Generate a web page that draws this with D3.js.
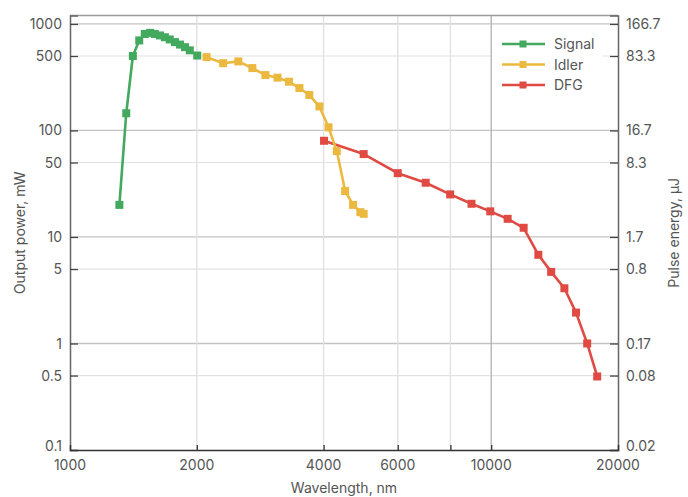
<!DOCTYPE html>
<html>
<head>
<meta charset="utf-8">
<script src="https://cdn.jsdelivr.net/npm/d3@7"></script>
<style>
  html, body { margin: 0; padding: 0; background: #fff; }
  svg text { font-family: Inter, "Liberation Sans", Arial, sans-serif; fill: #555; }
</style>
</head>
<body>
<svg id="chart" width="688" height="497"></svg>
<script>
// ---- data ----
const signalWavelength = [1310, 1360, 1410, 1460, 1505, 1550, 1590, 1635, 1680, 1725, 1775, 1825, 1875, 1925, 2005];
const signalPower      = [20, 145, 500, 700, 805, 825, 805, 780, 750, 715, 675, 640, 605, 565, 505];

const idlerWavelength = [2110, 2310, 2510, 2710, 2910, 3110, 3310, 3505, 3700, 3910, 4110, 4300, 4500, 4700, 4890, 4980];
const idlerPower      = [488, 428, 445, 385, 331, 313, 287, 250, 215, 168, 107, 64, 27, 20, 17.1, 16.5];

const dfgWavelength = [4010, 4980, 6000, 6990, 7990, 8980, 9950, 10940, 11940, 12940, 13880, 14920, 15900, 16900, 17850];
const dfgPower      = [80, 60, 39.7, 32.3, 25.1, 20.5, 17.4, 14.8, 12.2, 6.8, 4.7, 3.3, 1.95, 1.0, 0.49];

const seriesNames  = ["Signal", "Idler", "DFG"];
const seriesColors = ["#43a95e", "#ecb940", "#df4a42"];

const yTickValues = [1000, 500, 100, 50, 10, 5, 1, 0.5, 0.1];
const yRightLabels = ["166.7", "83.3", "16.7", "8.3", "1.7", "0.8", "0.17", "0.08", "0.02"];
const xTickValues = [2000, 4000, 6000, 8000, 10000];
const xLabelValues = [1000, 2000, 4000, 6000, 10000, 20000];

// ---- layout ----
const svg = d3.select("#chart");
const L = 70, R = 618, T = 15.5, B = 450;

const x = d3.scaleLog().domain([1000, 20000]).range([L, R]);
const y = d3.scaleLog().domain([0.1, 1200]).range([B, T]);

const isMajor = v => Math.abs(Math.log10(v) - Math.round(Math.log10(v))) < 1e-9;
const labelY = d => y(d) - (d === 0.1 ? 4 : 0);

// gridlines
svg.append("g").selectAll("line")
  .data(yTickValues.filter(v => v !== 0.1))
  .join("line")
  .attr("x1", L).attr("x2", R)
  .attr("y1", d => y(d)).attr("y2", d => y(d))
  .attr("stroke", d => isMajor(d) ? "#c4c4c4" : "#e2e2e2")
  .attr("stroke-width", d => isMajor(d) ? 1.3 : 1.2);

svg.append("g").selectAll("line")
  .data(xTickValues)
  .join("line")
  .attr("x1", d => x(d)).attr("x2", d => x(d))
  .attr("y1", T).attr("y2", B)
  .attr("stroke", d => d === 10000 ? "#b0b0b0" : "#e0e0e0")
  .attr("stroke-width", 1.3);

// frame
svg.append("line").attr("x1", L).attr("x2", R).attr("y1", T).attr("y2", T)
  .attr("stroke", "#999").attr("stroke-width", 1.3);

// left axis
const yAxisLeft = d3.axisRight(y).tickValues(yTickValues).tickSize(8).tickFormat("");
const gL = svg.append("g").attr("transform", `translate(${L},0)`).call(yAxisLeft);
gL.select(".domain").attr("stroke", "#666").attr("stroke-width", 1.5);
gL.selectAll(".tick line").attr("stroke", "#444").attr("stroke-width", 1.3);
svg.append("g").selectAll("text")
  .data(yTickValues).join("text")
  .attr("x", L - 8).attr("y", d => labelY(d)).attr("dy", "0.36em")
  .attr("text-anchor", "end").attr("font-size", 14)
  .text(d => d3.format("~g")(d));

// right axis
const yAxisRight = d3.axisLeft(y).tickValues(yTickValues).tickSize(8).tickFormat("");
const gR = svg.append("g").attr("transform", `translate(${R},0)`).call(yAxisRight);
gR.select(".domain").attr("stroke", "#666").attr("stroke-width", 1.5);
gR.selectAll(".tick line").attr("stroke", "#444").attr("stroke-width", 1.3);
svg.append("g").selectAll("text")
  .data(yTickValues).join("text")
  .attr("x", R + 8).attr("y", d => labelY(d)).attr("dy", "0.36em")
  .attr("text-anchor", "start").attr("font-size", 14)
  .text((d, i) => yRightLabels[i]);

// bottom axis
const xAxis = d3.axisTop(x).tickValues(xTickValues).tickSize(5).tickFormat("");
const gB = svg.append("g").attr("transform", `translate(0,${B})`).call(xAxis);
gB.select(".domain").attr("stroke", "#333").attr("stroke-width", 1.5);
gB.selectAll(".tick line").attr("stroke", "#333").attr("stroke-width", 1.3);
svg.append("g").selectAll("text")
  .data(xLabelValues).join("text")
  .attr("x", d => x(d)).attr("y", 470)
  .attr("text-anchor", "middle").attr("font-size", 14)
  .text(d => d);

// axis titles
svg.append("text").attr("x", L + (R - L) / 2).attr("y", 493)
  .attr("text-anchor", "middle").attr("font-size", 14).text("Wavelength, nm");
svg.append("text").attr("transform", `translate(25,${(T + B) / 2}) rotate(-90)`)
  .attr("text-anchor", "middle").attr("font-size", 14).text("Output power, mW");
svg.append("text").attr("transform", `translate(679,${(T + B) / 2}) rotate(-90)`)
  .attr("text-anchor", "middle").attr("font-size", 14).text("Pulse energy, µJ");

// series
const series = [
  { name: seriesNames[0], color: seriesColors[0], xs: signalWavelength, ys: signalPower },
  { name: seriesNames[1], color: seriesColors[1], xs: idlerWavelength, ys: idlerPower },
  { name: seriesNames[2], color: seriesColors[2], xs: dfgWavelength, ys: dfgPower }
];
const line = d3.line().x(d => x(d[0])).y(d => y(d[1]));
const drawOrder = [2, 0, 1];
drawOrder.forEach(i => {
  const s = series[i];
  const pts = s.xs.map((w, k) => [w, s.ys[k]]);
  const g = svg.append("g");
  g.append("path").datum(pts).attr("d", line)
    .attr("fill", "none").attr("stroke", s.color).attr("stroke-width", 2.6)
    .attr("stroke-linejoin", "round");
  g.selectAll("rect").data(pts).join("rect")
    .attr("x", d => x(d[0]) - 4).attr("y", d => y(d[1]) - 4)
    .attr("width", 8).attr("height", 8)
    .attr("fill", s.color);
});

// legend
const lg = svg.append("g");
lg.append("rect").attr("x", 492).attr("y", 30).attr("width", 111).attr("height", 70).attr("fill", "#fff");
series.forEach((s, i) => {
  const ly = 44 + i * 20.5;
  lg.append("line").attr("x1", 502).attr("x2", 545).attr("y1", ly).attr("y2", ly)
    .attr("stroke", s.color).attr("stroke-width", 2.6);
  lg.append("rect").attr("x", 519.5).attr("y", ly - 3.5).attr("width", 7).attr("height", 7).attr("fill", s.color);
  lg.append("text").attr("x", 554).attr("y", ly).attr("dy", "0.36em").attr("font-size", 14).text(s.name);
});
</script>
</body>
</html>
